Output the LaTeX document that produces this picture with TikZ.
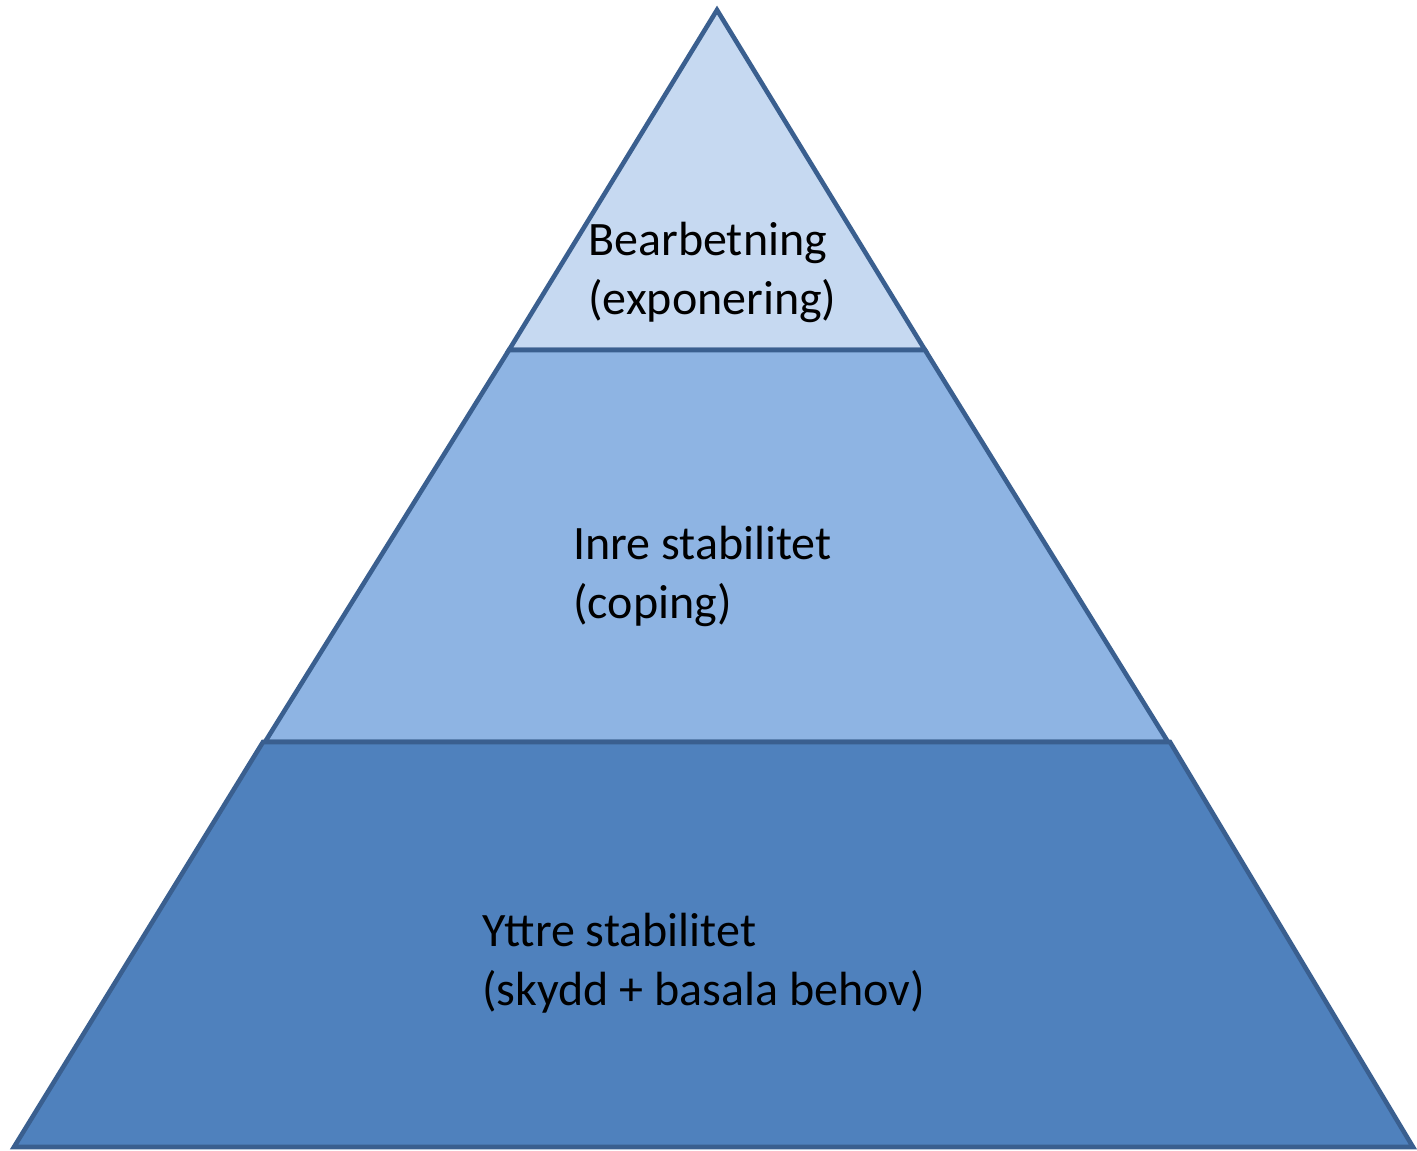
\documentclass[tikz,border=0pt]{standalone}
\usepackage{fontspec}
\setmainfont{Carlito}
\definecolor{edgeblue}{HTML}{3A5F8F}
\definecolor{topblue}{HTML}{C6D9F1}
\definecolor{midblue}{HTML}{8EB4E3}
\definecolor{lowblue}{HTML}{4F81BD}
\begin{document}
\begin{tikzpicture}[x=0.5pt,y=-0.5pt,line width=2.3pt,font=\fontsize{24}{29.3}\selectfont]
                \useasboundingbox (0,0) rectangle (1417,1150);
                \filldraw[draw=edgeblue,fill=topblue](717,10)--(925,350)--(509,350)--cycle;
                \filldraw[draw=edgeblue,fill=midblue](509,350)--(925,350)--(1168,742)--(265,742)--cycle;
                \filldraw[draw=edgeblue,fill=lowblue](263,742)--(1170,742)--(1413,1147)--(14,1147)--cycle;
                \node[anchor=base west,align=left,inner sep=0pt] (bearb) at (586,314){Bearbetning\\(exponering)};
                \node[anchor=base west,align=left,inner sep=0pt] (inre) at (571,618){Inre stabilitet\\(coping)};
                \node[anchor=base west,align=left,inner sep=0pt] (yttre) at (480,1005){Yttre stabilitet\\(skydd + basala behov)};
            \end{tikzpicture}
\end{document}
